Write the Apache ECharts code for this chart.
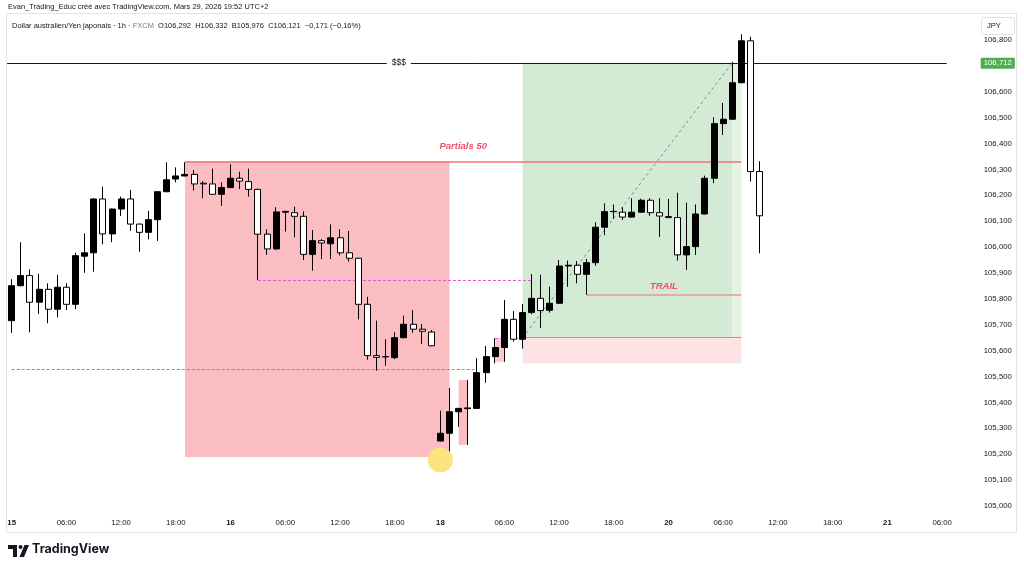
<!DOCTYPE html>
<html>
<head>
<meta charset="utf-8">
<title>Dollar australien/Yen japonais 1h</title>
<script src="https://cdn.jsdelivr.net/npm/echarts@6.0.0/dist/echarts.min.js"></script>
<style>
html,body{margin:0;padding:0;background:#ffffff;}
#chart{width:1024px;height:570px;}
</style>
</head>
<body>
<div id="chart"></div>
<script>
// ---------------- DATA ----------------
const candleOpen = [105.716,105.851,105.890,105.787,105.837,105.760,105.845,105.779,105.965,105.978,
106.186,106.051,106.147,106.186,106.089,106.057,106.106,106.214,106.263,106.275,
106.281,106.247,106.244,106.204,106.230,106.266,106.253,106.223,106.050,105.993,
106.135,106.133,106.119,105.972,106.025,106.013,106.036,105.978,105.957,105.779,
105.581,105.576,105.573,105.650,105.702,105.683,105.672,105.251,105.281,105.364,
105.376,105.377,105.515,105.577,105.612,105.721,105.644,105.747,105.802,105.756,
105.783,105.927,105.930,105.895,105.940,106.077,106.137,106.135,106.116,106.135,
106.181,106.133,106.118,106.114,105.970,106.002,106.128,106.266,106.477,106.494,
106.635,106.797,106.292];
const candleClose = [105.851,105.890,105.787,105.837,105.760,105.845,105.779,105.967,105.978,106.186,
106.051,106.147,106.186,106.089,106.057,106.106,106.214,106.260,106.275,106.281,
106.244,106.244,106.204,106.230,106.266,106.255,106.223,106.050,105.993,106.136,
106.138,106.119,105.972,106.025,106.016,106.036,105.978,105.957,105.779,105.581,
105.574,105.577,105.650,105.702,105.683,105.675,105.619,105.281,105.364,105.377,
105.379,105.515,105.577,105.612,105.721,105.644,105.747,105.802,105.755,105.783,
105.927,105.930,105.895,105.940,106.077,106.137,106.138,106.116,106.135,106.181,
106.133,106.120,106.114,105.970,106.002,106.128,106.266,106.477,106.494,106.635,
106.797,106.292,106.121];
const candleLow = [105.669,105.848,105.671,105.742,105.706,105.729,105.757,105.760,105.901,105.905,
106.011,106.019,106.120,106.063,105.982,106.030,106.024,106.212,106.250,106.273,
106.219,106.189,106.202,106.159,106.228,106.224,106.195,105.873,105.970,105.989,
106.060,106.038,105.950,105.909,105.954,105.954,105.968,105.944,105.721,105.565,
105.523,105.542,105.567,105.648,105.669,105.626,105.617,105.249,105.191,105.306,
105.236,105.375,105.476,105.551,105.557,105.635,105.608,105.741,105.688,105.747,
105.781,105.847,105.860,105.816,105.928,106.046,106.109,106.105,106.114,106.133,
106.121,106.040,106.113,105.948,105.912,105.970,106.126,106.247,106.433,106.492,
106.633,106.253,105.976];
const candleHigh = [105.876,106.019,105.914,105.897,105.860,105.893,105.860,105.978,106.053,106.188,
106.233,106.149,106.195,106.221,106.091,106.140,106.216,106.328,106.308,106.328,
106.298,106.255,106.303,106.250,106.320,106.291,106.303,106.225,106.069,106.154,
106.140,106.156,106.138,106.066,106.031,106.088,106.069,106.062,105.959,105.808,
105.716,105.644,105.671,105.735,105.756,105.703,105.680,105.368,105.456,105.379,
105.487,105.571,105.618,105.648,105.796,105.753,105.780,105.896,105.893,105.847,
105.950,105.948,105.946,105.954,106.096,106.169,106.165,106.154,106.189,106.187,
106.189,106.189,106.186,106.210,106.172,106.165,106.276,106.501,106.557,106.716,
106.822,106.813,106.332];

// time axis: bar slots (incl. empty future slots) and tick labels
const slotCount = 103;
const tickIndex = [0,6,12,18,24,30,36,42,47,54,60,66,72,78,84,90,96,102];
const tickText  = ['15','06:00','12:00','18:00','16','06:00','12:00','18:00','18','06:00','12:00','18:00','20','06:00','12:00','18:00','21','06:00'];
const dayTicks  = ['15','16','18','20','21'];

// price axis
const priceMin = 104.9652;
const priceMax = 106.8773;
const priceTicks = [105.0,105.1,105.2,105.3,105.4,105.5,105.6,105.7,105.8,105.9,106.0,106.1,106.2,106.3,106.4,106.5,106.6,106.8];

// drawings (bar index, price)
const sellZone      = [19, 48, 105.189, 106.331];
const smallZoneA    = [49, 50, 105.236, 105.487];
const smallZoneB    = [53, 54, 105.557, 105.648];
const positionSpan  = [56, 79, 80];           // start, progress end, end
const entryPrice    = 105.650;
const targetPrice   = 106.712;
const stopPrice     = 105.551;
const partialsLine  = [19, 80, 106.331];
const trailLine     = [63, 80, 105.815];
const dashedLevelA  = [27, 57, 105.873];
const dashedLevelB  = [0, 51, 105.528];
const dashedLevelC  = [53, 56, 105.648];
const dollarMark    = [42, 106.712];
const circleMark    = [47, 105.178];
const lastPrice     = 106.121;

// ---------------- CHART ----------------
const FONT = 'Liberation Sans, Arial, sans-serif';
const categories = Array.from({length: slotCount}, (_, i) => String(i));
const tickMap = {};
tickIndex.forEach((k, i) => { tickMap[k] = tickText[i]; });
const candles = candleOpen.map((o, i) => [o, candleClose[i], candleLow[i], candleHigh[i]]);
const fmt = v => v.toFixed(3).replace('.', ',');
const last = candles.length - 1;
const chg = candleClose[last] - candleOpen[last];
const chgPct = chg / candleOpen[last] * 100;
const signed = (v, d) => (v < 0 ? '\u2212' : '+') + Math.abs(v).toFixed(d).replace('.', ',');

function area(z, color) {
  return [{coord: [z[0], z[2]], itemStyle: {color: color}}, {coord: [z[1], z[3]]}];
}
function seg(x0, x1, y0, y1, ls, label) {
  const a = {coord: [x0, y0], lineStyle: ls};
  if (label) a.label = label;
  return [a, {coord: [x1, y1], lineStyle: ls}];
}

const MAGENTA = '#ea50e4';
const chart = echarts.init(document.getElementById('chart'), null, {renderer: 'canvas', width: 1024, height: 570});

const badge = (v, bg, fg) => ({
  show: true, position: 'end', formatter: () => fmt(v), backgroundColor: bg, color: fg,
  padding: [2, 3, 1, 3], distance: 34, fontSize: 7.8, fontFamily: FONT, borderRadius: 1
});

const option = {
  animation: false,
  backgroundColor: '#ffffff',
  textStyle: {fontFamily: FONT},
  grid: {left: 7.1, right: 77.3, top: 20, bottom: 55, containLabel: false},
  xAxis: {
    type: 'category',
    data: categories,
    boundaryGap: true,
    axisLine: {show: false},
    axisTick: {show: false},
    splitLine: {show: false},
    axisLabel: {
      interval: (idx) => tickMap[idx] !== undefined,
      formatter: (val, idx) => {
        const t = tickMap[idx];
        if (t === undefined) return '';
        return dayTicks.includes(t) ? '{b|' + t + '}' : t;
      },
      color: '#131722',
      fontSize: 7.8,
      margin: 4,
      fontFamily: FONT,
      rich: {b: {fontWeight: 'bold', fontSize: 7.8, color: '#131722', fontFamily: FONT}}
    }
  },
  yAxis: {
    type: 'value',
    position: 'right',
    min: priceMin,
    max: priceMax,
    scale: true,
    axisLine: {show: false},
    axisTick: {show: false},
    splitLine: {show: false},
    axisLabel: {
      customValues: priceTicks,
      formatter: v => fmt(v),
      color: '#131722',
      fontSize: 7.8,
      align: 'left',
      margin: 37,
      fontFamily: FONT
    }
  },
  series: [
    {
      name: 'zones',
      type: 'line',
      data: [],
      z: 1,
      silent: true,
      markArea: {
        silent: true,
        z: 1,
        data: [
          area(sellZone, '#f9bdc2'),
          area(smallZoneA, '#f9bdc2'),
          area(smallZoneB, '#fbc9cd'),
          [{coord: [positionSpan[0], entryPrice], itemStyle: {color: '#d3ebd5'}}, {coord: [positionSpan[1], targetPrice]}],
          [{coord: [positionSpan[1], entryPrice], itemStyle: {color: '#e5f3e6'}}, {coord: [positionSpan[2], targetPrice]}],
          [{coord: [positionSpan[0], stopPrice], itemStyle: {color: '#fde3e4'}}, {coord: [positionSpan[2], entryPrice]}]
        ]
      },
      markLine: {
        silent: true,
        z: 1,
        symbol: ['none', 'none'],
        label: {show: false},
        data: [
          {yAxis: targetPrice, lineStyle: {color: '#131722', width: 1, type: 'solid'}, label: badge(targetPrice, '#4caf50', '#ffffff')},
          {yAxis: entryPrice, lineStyle: {opacity: 0, width: 0}, label: badge(entryPrice, '#787b86', '#ffffff')},
          {yAxis: stopPrice, lineStyle: {opacity: 0, width: 0}, label: badge(stopPrice, '#f23645', '#ffffff')},
          {yAxis: lastPrice, lineStyle: {opacity: 0, width: 0},
           label: Object.assign(badge(lastPrice, '#ffffff', '#131722'), {padding: [1, 3, 1, 3]})},
          seg(trailLine[0], trailLine[1], trailLine[2], trailLine[2],
              {color: '#e6999a', width: 1.5, type: 'solid', opacity: 1},
              {show: true, position: 'insideMiddleTop', formatter: 'TRAIL', color: '#f0506a', fontStyle: 'italic',
               fontWeight: 'bold', fontSize: 9.5, distance: 4, fontFamily: FONT}),
          seg(dashedLevelA[0], dashedLevelA[1], dashedLevelA[2], dashedLevelA[2], {color: MAGENTA, width: 1, type: [3, 2], opacity: 1}),
          seg(dashedLevelB[0], dashedLevelB[1], dashedLevelB[2], dashedLevelB[2], {color: MAGENTA, width: 1, type: [3, 2], opacity: 1}),
          seg(dashedLevelC[0], dashedLevelC[1], dashedLevelC[2], dashedLevelC[2], {color: MAGENTA, width: 1, type: [3, 2], opacity: 1}),
          seg(positionSpan[0], positionSpan[2], entryPrice, entryPrice, {color: '#9b9ea6', width: 1, type: 'solid', opacity: 1}),
          seg(positionSpan[0], positionSpan[1], entryPrice, targetPrice, {color: '#868993', width: 1, type: [3, 3], opacity: 1})
        ]
      }
    },
    {
      name: 'partials',
      type: 'line',
      data: [],
      z: 2,
      silent: true,
      markLine: {
        silent: true,
        z: 2,
        symbol: ['none', 'none'],
        lineStyle: {color: '#f4707c', width: 1.5, type: 'solid', opacity: 1},
        label: {show: true, position: 'insideMiddleTop', formatter: 'Partials 50', color: '#f0506a', fontStyle: 'italic',
                fontWeight: 'bold', fontSize: 9.5, distance: 10, fontFamily: FONT},
        data: [
          [{coord: [partialsLine[0], partialsLine[2]]}, {coord: [partialsLine[1], partialsLine[2]]}]
        ]
      }
    },
    {
      name: 'AUDJPY',
      type: 'candlestick',
      data: candles,
      z: 3,
      barWidth: 6.5,
      silent: true,
      itemStyle: {
        color: '#000000',
        color0: '#ffffff',
        borderColor: '#000000',
        borderColor0: '#000000',
        borderWidth: 1
      }
    },
    {
      name: 'marks',
      type: 'line',
      data: [],
      z: 6,
      silent: true,
      markPoint: {
        silent: true,
        z: 6,
        data: [
          {coord: [circleMark[0], circleMark[1]], symbol: 'circle', symbolSize: 25,
           itemStyle: {color: '#fbe47f'}, label: {show: false}},
          {coord: [dollarMark[0], dollarMark[1]], symbol: 'rect', symbolSize: [24, 9], symbolOffset: [4, 0],
           itemStyle: {color: '#ffffff'},
           label: {show: true, position: 'inside', formatter: '$$$', color: '#131722', fontSize: 8.5, fontFamily: FONT}}
        ]
      }
    }
  ],
  graphic: [
    {type: 'rect', silent: true, z: 0, shape: {x: 6.5, y: 13.5, width: 1010, height: 519},
     style: {fill: 'none', stroke: '#e0e3eb', lineWidth: 1}},
    {type: 'text', silent: true, z: 100, left: 8, top: 3,
     style: {text: 'Evan_Trading_Educ créé avec TradingView.com, Mars 29, 2026 19:52 UTC+2',
             fill: '#131722', font: '7.5px ' + FONT}},
    {type: 'text', silent: true, z: 100, left: 12, top: 22,
     style: {
       text: '{n|Dollar australien/Yen japonais · 1h · }{f|FXCM}{n|  O' + fmt(candleOpen[last]) + '  H' + fmt(candleHigh[last]) +
             '  B' + fmt(candleLow[last]) + '  C' + fmt(candleClose[last]) + '  ' + signed(chg, 3) + ' (' + signed(chgPct, 2) + '%)}',
       rich: {
         n: {fill: '#131722', font: '7.5px ' + FONT},
         f: {fill: '#787b86', font: '7.5px ' + FONT}
       }
     }},
    {type: 'rect', silent: true, z: 100, shape: {x: 981.5, y: 17.5, width: 33, height: 17, r: 2},
     style: {fill: '#ffffff', stroke: '#e0e3eb', lineWidth: 1}},
    {type: 'text', silent: true, z: 101, left: 987, top: 22,
     style: {text: 'JPY', fill: '#131722', font: '7.5px ' + FONT}},
    // TradingView logo
    {type: 'polygon', silent: true, z: 100,
     shape: {points: [[8, 545], [17, 545], [17, 557], [13, 557], [13, 549], [8, 549]]}, style: {fill: '#131722'}},
    {type: 'circle', silent: true, z: 100, shape: {cx: 20.5, cy: 547, r: 2}, style: {fill: '#131722'}},
    {type: 'polygon', silent: true, z: 100,
     shape: {points: [[24.5, 545], [29, 545], [24, 557], [19.5, 557]]}, style: {fill: '#131722'}},
    {type: 'text', silent: true, z: 100, left: 32, top: 543,
     style: {text: 'TradingView', fill: '#131722', font: 'bold 12.5px Inter, ' + FONT}}
  ]
};

chart.setOption(option);
</script>
</body>
</html>
